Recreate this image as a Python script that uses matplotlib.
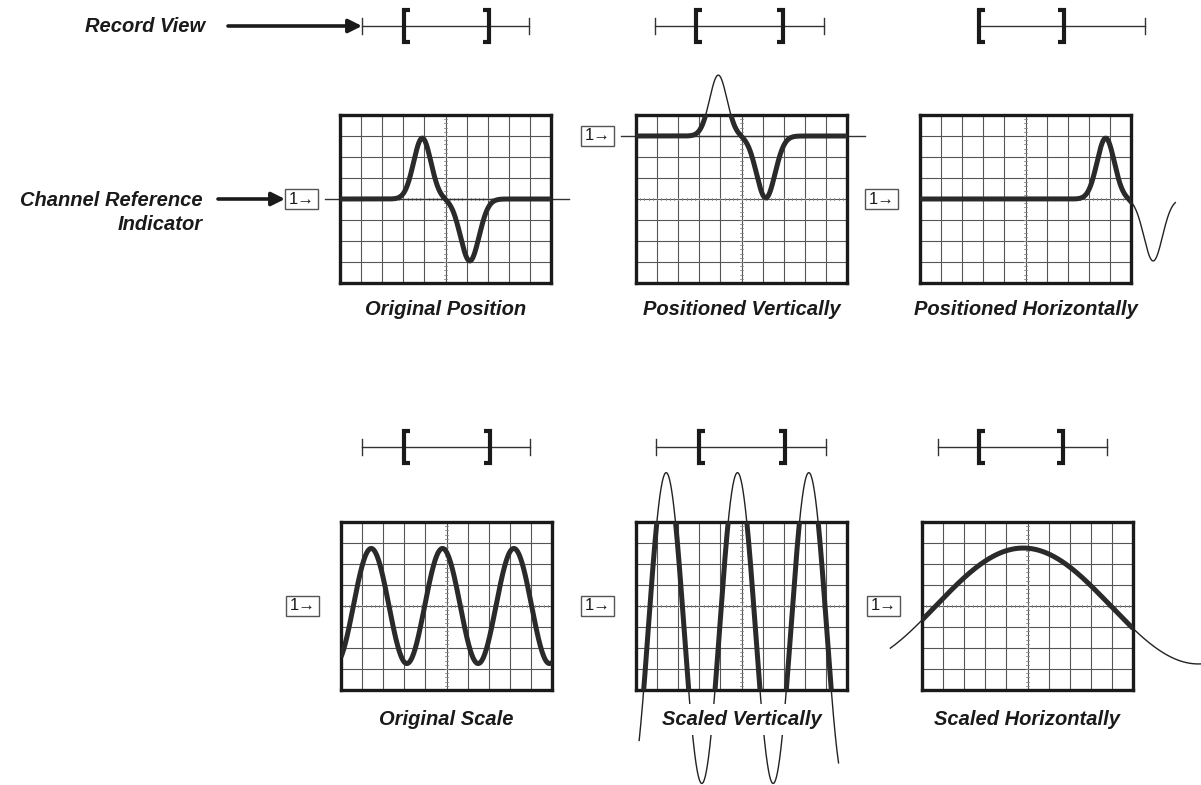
import numpy as np
import matplotlib
matplotlib.use("Agg")
import matplotlib.pyplot as plt
from matplotlib.patches import Rectangle

# ---------------- data ----------------
top_titles = ["Original Position", "Positioned Vertically", "Positioned Horizontally"]
bottom_titles = ["Original Scale", "Scaled Vertically", "Scaled Horizontally"]
record_label = "Record View"
channel_label = ["Channel Reference", "Indicator"]
ref_marker = "1\u2192"

# record view window (start, end) as a fraction of the record length, per panel
view_start = [0.25, 0.24, 0.00, 0.25, 0.25, 0.24]
view_end = [0.76, 0.76, 0.51, 0.76, 0.76, 0.74]

# pulse pair waveform (in screen divisions)
pulse_centers = [3.9, 6.15]
pulse_amps = [2.9, -2.95]
pulse_widths = [0.41, 0.44]
pulse_ref_level = [0.0, 3.0, 0.0]      # channel reference level per top panel
pulse_shift = [0.0, 0.0, 4.9]          # horizontal position per top panel

# sine waveform (in screen divisions)
sine_period = [3.38, 3.38, 16.6]
sine_peak_at = [1.43, 1.43, 4.8]
sine_amp = [2.74, 7.4, 2.76]
sine_offset = [0.0, -1.05, 0.0]

# ---------------- layout ----------------
W, H = 1201, 785
fig = plt.figure(figsize=(W / 100, H / 100), dpi=100)
FONT = ["Liberation Sans", "DejaVu Sans"]
INK = "#1a1a1a"

ov = fig.add_axes([0, 0, 1, 1])
ov.set_xlim(0, W)
ov.set_ylim(H, 0)
ov.axis("off")

SW, SH = 211, 168
top_lefts = [340, 636, 920]
bot_lefts = [341, 636, 922]
TOP_Y, BOT_Y = 115, 522

bar_lefts = [362, 655, 979, 362, 656, 938]
bar_len = [167, 169, 166, 168, 170, 169]
bar_y = [26, 26, 26, 447, 447, 447]

top_ranges = [(0, 10), (0, 10), (0, 12.1)]
bot_ranges = [(0, 10), (0.15, 9.6), (-1.5, 13.2)]


def record_bar(i):
    x0, L, y = bar_lefts[i], bar_len[i], bar_y[i]
    ov.plot([x0, x0 + L], [y, y], lw=1.0, color="#333")
    for xx in (x0, x0 + L):
        ov.plot([xx, xx], [y - 8, y + 8], lw=1.0, color="#333")
    xs = x0 + view_start[i] * L
    xe = x0 + view_end[i] * L
    ov.plot([xs + 6, xs, xs, xs + 6], [y - 16, y - 16, y + 16, y + 16],
            lw=3.0, color=INK, solid_joinstyle="miter", solid_capstyle="butt")
    ov.plot([xe - 6, xe, xe, xe - 6], [y - 16, y - 16, y + 16, y + 16],
            lw=3.0, color=INK, solid_joinstyle="miter", solid_capstyle="butt")


def screen(left, top):
    ax = fig.add_axes([left / W, 1 - (top + SH) / H, SW / W, SH / H])
    ax.set_xlim(0, 10)
    ax.set_ylim(-4, 4)
    ax.set_xticks([])
    ax.set_yticks([])
    for s in ax.spines.values():
        s.set_linewidth(2.4)
        s.set_color(INK)
    for gx in range(1, 10):
        ax.axvline(gx, color="#555", lw=0.8, zorder=1)
    for gy in range(-3, 4):
        ax.axhline(gy, color="#555", lw=0.8, zorder=1)
    for t in np.arange(0.2, 10, 0.2):
        ax.plot([t, t], [-0.07, 0.07], color="#888", lw=0.6, zorder=1)
    for t in np.arange(-3.8, 4, 0.2):
        ax.plot([4.93, 5.07], [t, t], color="#888", lw=0.6, zorder=1)
    return ax


def marker(ax, level):
    ax.add_patch(Rectangle((-2.62, level - 0.47), 1.57, 0.94, fill=False,
                           ec="#555", lw=1.0, clip_on=False))
    ax.text(-1.83, level, ref_marker, ha="center", va="center", fontsize=12,
            family=FONT, color=INK, clip_on=False)


def title(ax, txt, ypos):
    ax.text(0.5, ypos, txt, transform=ax.transAxes, ha="center", va="center",
            fontsize=14.5, fontweight="bold", fontstyle="italic", family=FONT,
            color=INK, zorder=10,
            bbox=dict(boxstyle="square,pad=0.3", fc="white", ec="none"))


def draw_wave(ax, x, y):
    ax.plot(x, y, lw=1.0, color="#222", clip_on=False, zorder=3)
    ax.plot(x, y, lw=3.6, color="#2a2a2a", zorder=4, solid_capstyle="butt")


# ---- top row: position ----
for i in range(3):
    ax = screen(top_lefts[i], TOP_Y)
    lo, hi = top_ranges[i]
    x = np.linspace(lo, hi, 800)
    y = np.full_like(x, pulse_ref_level[i])
    for c, a, w in zip(pulse_centers, pulse_amps, pulse_widths):
        y = y + a * np.exp(-((x - c - pulse_shift[i]) ** 2) / (2 * w ** 2))
    if i < 2:
        ax.plot([-0.71, 10.86], [pulse_ref_level[i]] * 2, lw=1.0, color="#333",
                clip_on=False, zorder=2)
    draw_wave(ax, x, y)
    marker(ax, pulse_ref_level[i])
    title(ax, top_titles[i], -0.16)
    record_bar(i)

# ---- bottom row: scale ----
for i in range(3):
    ax = screen(bot_lefts[i], BOT_Y)
    lo, hi = bot_ranges[i]
    x = np.linspace(lo, hi, 1200)
    y = sine_offset[i] + sine_amp[i] * np.cos(2 * np.pi * (x - sine_peak_at[i]) / sine_period[i])
    draw_wave(ax, x, y)
    marker(ax, 0.0)
    title(ax, bottom_titles[i], -0.178)
    record_bar(3 + i)

# ---- left labels and arrows ----
ov.text(205, 27, record_label, ha="right", va="center", fontsize=14.5,
        fontweight="bold", fontstyle="italic", family=FONT, color=INK)
ov.annotate("", xy=(362, 26), xytext=(228, 26),
            arrowprops=dict(arrowstyle="-|>", lw=2.6, color=INK, mutation_scale=20,
                            shrinkA=0, shrinkB=0))
ov.text(203, 201, channel_label[0], ha="right", va="center", fontsize=14.5,
        fontweight="bold", fontstyle="italic", family=FONT, color=INK)
ov.text(203, 224, channel_label[1], ha="right", va="center", fontsize=14.5,
        fontweight="bold", fontstyle="italic", family=FONT, color=INK)
ov.annotate("", xy=(285, 199), xytext=(218, 199),
            arrowprops=dict(arrowstyle="-|>", lw=2.6, color=INK, mutation_scale=20,
                            shrinkA=0, shrinkB=0))

fig.savefig("out.png", dpi=100)
